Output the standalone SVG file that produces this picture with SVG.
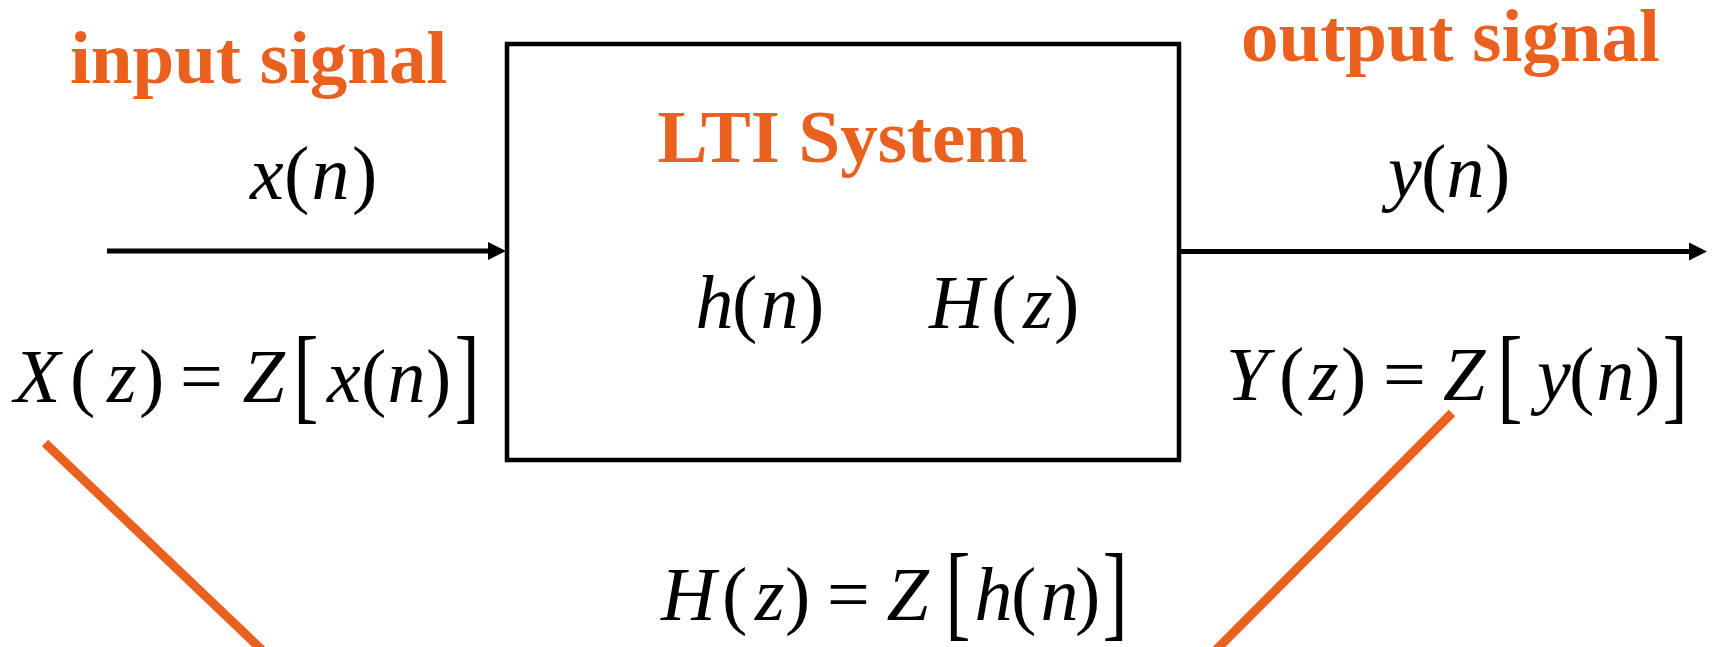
<svg xmlns="http://www.w3.org/2000/svg" width="1714" height="647" viewBox="0 0 1714 647">
<style>
.lbl{font-family:"Liberation Serif","Times New Roman",serif;font-weight:bold;font-size:75px;fill:#EA601E}
.m{font-family:"Liberation Serif","Times New Roman",serif;font-size:76px;fill:#000}
.i{font-style:italic}
.conn{stroke:#000;stroke-width:5;fill:none}
.or{stroke:#EA601E;stroke-width:9;fill:none}
</style>
<defs>
<marker id="ah" markerUnits="userSpaceOnUse" markerWidth="18" markerHeight="19" viewBox="0 0 18 19" refX="8" refY="9.5" orient="auto">
<polygon points="0,0.5 18,9.5 0,18.5" fill="#000"/>
</marker>
</defs>
<rect width="1714" height="647" fill="#fff"/>
<g id="connectors">
<line class="conn" x1="107" y1="251" x2="496" y2="251" marker-end="url(#ah)"/>
<line class="conn" x1="1179" y1="251.5" x2="1697" y2="251.5" marker-end="url(#ah)"/>
<line class="or" x1="45" y1="443" x2="262" y2="650"/>
<line class="or" x1="1452" y1="413" x2="1216" y2="650"/>
</g>
<g id="input-label">
<text class="lbl" x="70" y="83">input signal</text>
<text class="m" y="199"><tspan class="i" x="250">x</tspan><tspan x="284">(</tspan><tspan class="i" x="311.5">n</tspan><tspan x="352">)</tspan></text>
<text class="m" y="402"><tspan class="i" x="14">X</tspan><tspan x="70">(</tspan><tspan class="i" x="107">z</tspan><tspan x="139">)</tspan><tspan x="180">=</tspan><tspan class="i" x="242.5">Z</tspan><tspan class="i" x="327">x</tspan><tspan x="361">(</tspan><tspan class="i" x="387.5">n</tspan><tspan x="426">)</tspan></text>
<text class="m" transform="translate(293.3,410.4) scale(1,1.4)">[</text>
<text class="m" transform="translate(454.4,410.4) scale(1,1.4)">]</text>
</g>
<g id="lti-system">
<rect x="507" y="44" width="672" height="416" fill="none" stroke="#000" stroke-width="4.5"/>
<text class="lbl" x="657.5" y="162">LTI System</text>
<text class="m" y="328"><tspan class="i" x="695.5">h</tspan><tspan x="732">(</tspan><tspan class="i" x="760.5">n</tspan><tspan x="799">)</tspan><tspan class="i" x="929">H</tspan><tspan x="991">(</tspan><tspan class="i" x="1023">z</tspan><tspan x="1054">)</tspan></text>
</g>
<g id="output-label">
<text class="lbl" x="1241" y="61">output signal</text>
<text class="m" y="197"><tspan class="i" x="1388">y</tspan><tspan x="1421">(</tspan><tspan class="i" x="1446.5">n</tspan><tspan x="1485">)</tspan></text>
<text class="m" y="400"><tspan class="i" x="1226">Y</tspan><tspan x="1279">(</tspan><tspan class="i" x="1309">z</tspan><tspan x="1341">)</tspan><tspan x="1383">=</tspan><tspan class="i" x="1443">Z</tspan><tspan class="i" x="1537">y</tspan><tspan x="1569">(</tspan><tspan class="i" x="1596.5">n</tspan><tspan x="1635">)</tspan></text>
<text class="m" transform="translate(1497.3,410.4) scale(1,1.4)">[</text>
<text class="m" transform="translate(1662.4,410.4) scale(1,1.4)">]</text>
</g>
<g id="transfer-function">
<text class="m" y="620"><tspan class="i" x="661">H</tspan><tspan x="722">(</tspan><tspan class="i" x="755">z</tspan><tspan x="785">)</tspan><tspan x="827">=</tspan><tspan class="i" x="886.5">Z</tspan><tspan class="i" x="974.5">h</tspan><tspan x="1011">(</tspan><tspan class="i" x="1040.5">n</tspan><tspan x="1075">)</tspan></text>
<text class="m" transform="translate(945.3,627.4) scale(1,1.4)">[</text>
<text class="m" transform="translate(1102.4,627.4) scale(1,1.4)">]</text>
</g>
</svg>
